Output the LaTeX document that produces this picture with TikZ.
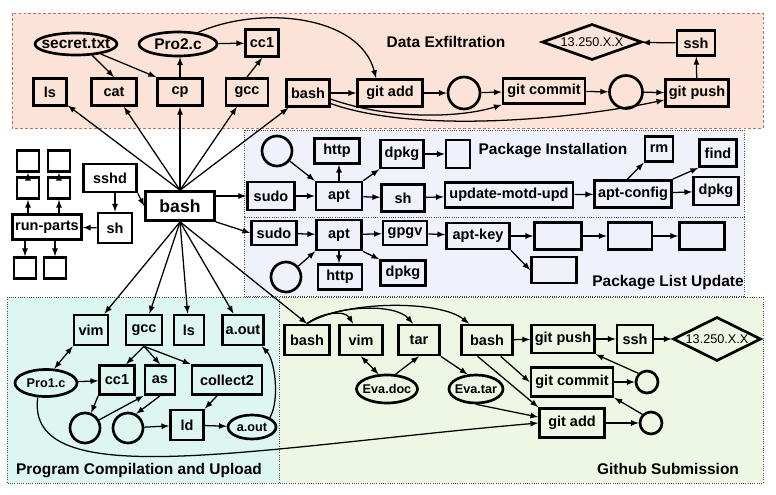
\documentclass[tikz,border=0pt]{standalone}
\usepackage{fontspec}
\setmainfont{Liberation Sans}
\usepackage{xcolor}
\usepackage{tikz}
\usetikzlibrary{calc}
\usetikzlibrary{shapes.geometric}

\definecolor{exfil}{HTML}{FBE4D7}
\definecolor{exfilline}{HTML}{B8745E}
\definecolor{pkg}{HTML}{EFF2FA}
\definecolor{prog}{HTML}{DEF6F2}
\definecolor{gitbg}{HTML}{EEF7E4}

\tikzset{
  box/.style={draw, line width=1.9pt, font=\bfseries\fontsize{10.3}{12}\selectfont, inner sep=1pt, minimum height=0.68cm},
  oval/.style={ellipse, draw, line width=1.9pt, font=\bfseries\fontsize{9}{11}\selectfont, inner xsep=-4pt, inner ysep=0pt},
  hole/.style={circle, draw, line width=1.9pt, inner sep=0pt},
  host/.style={diamond, draw, line width=1.9pt, font=\fontsize{9}{11}\selectfont, inner sep=0pt},
  wd/.style={minimum width=#1*0.025cm},
  hg/.style={minimum height=#1*0.025cm},
  sz/.style={minimum size=#1*0.025cm},
  arr/.style={-latex, line width=0.9pt},
  twoway/.style={latex-latex, line width=0.9pt},
  area/.style={densely dotted, draw=black!70, line width=0.6pt},
  areatitle/.style={font=\bfseries\fontsize{11}{13}\selectfont, inner sep=0pt},
}

\begin{document}
\begin{tikzpicture}[x=0.025cm, y=-0.025cm]
	\useasboundingbox (0,0) rectangle (776,494);
	% scenario areas
	\fill[exfil] (12,13) rectangle (763,128);
	\draw[exfilline, dash pattern=on 2pt off 1.5pt, line width=0.7pt] (12,13) rectangle (763,128);
	\fill[pkg] (244,130) rectangle (744,296);
	\draw[area] (244,130) rectangle (744,217);
	\draw[area] (244,217) rectangle (744,296);
	\fill[prog] (7,297) rectangle (279,483);
	\draw[area] (7,297) rectangle (279,483);
	\fill[gitbg] (279,297) rectangle (763,483);
	\draw[area] (279,297) rectangle (763,483);

	% entry point
	\node[box, wd=69, hg=29, font=\bfseries\fontsize{12.5}{14}\selectfont] (bash) at (180,206) {bash};
	\node[box, wd=53, hg=28] (sshd) at (110,178) {sshd};
	\node[box, wd=34, hg=30] (sh) at (115,228) {sh};
	\node[box, wd=69, hg=25] (runparts) at (47,227) {run-parts};
	\node[box, wd=22, hg=21] (q1) at (28,161) {};
	\node[box, wd=22, hg=21] (q2) at (59,161) {};
	\node[box, wd=22, hg=21] (q3) at (28,188) {};
	\node[box, wd=22, hg=21] (q4) at (59,188) {};
	\node[box, wd=22, hg=21] (q5) at (25,268) {};
	\node[box, wd=22, hg=21] (q6) at (55,268) {};

	% data exfiltration
	\node[oval, wd=82, hg=22, font=\bfseries\fontsize{11}{13}\selectfont] (dsecret) at (76,44) {secret.txt};
	\node[oval, wd=78, hg=24, font=\bfseries\fontsize{11}{13}\selectfont] (dpro) at (178,44) {Pro2.c};
	\node[box, wd=33] (dcc) at (262,43) {cc1};
	\node[box, wd=33] (dls) at (50,92) {ls};
	\node[box, wd=45] (dcat) at (114,92) {cat};
	\node[box, wd=45] (dcp) at (180,92) {cp};
	\node[box, wd=42] (dgcc) at (247,92) {gcc};
	\node[box, wd=43] (dbash) at (308,93) {bash};
	\node[box, wd=65] (dadd) at (390,93) {git add};
	\node[hole, sz=32] (dc1) at (464,93) {};
	\node[box, wd=82, hg=25] (dcommit) at (544,91) {git commit};
	\node[hole, sz=33] (dc2) at (626,92) {};
	\node[box, wd=63] (dpush) at (697,93) {git push};
	\node[box, wd=38, hg=25] (dssh) at (696,43) {ssh};
	\node[host, wd=100, hg=36, aspect=2.8] (dip) at (592,42) {13.250.X.X};
	\node[areatitle] (dtitle) at (446,42) {Data Exfiltration};

	% package installation
	\node[hole, sz=30] (ic) at (277,151) {};
	\node[box, wd=45, hg=25] (ihttp) at (337,151) {http};
	\node[box, wd=43, hg=28] (idpkg) at (402,154) {dpkg};
	\node[box, wd=24, hg=28] (ibox) at (458,154) {};
	\node[areatitle] (ititle) at (553,151) {Package Installation};
	\node[box, wd=28, hg=25] (irm) at (659,149) {rm};
	\node[box, wd=37] (ifind) at (718,153) {find};
	\node[box, wd=47, hg=28] (isudo) at (271,196) {sudo};
	\node[box, wd=46, hg=28] (iapt) at (339,196) {apt};
	\node[box, wd=43] (ish) at (403,198) {sh};
	\node[box, wd=128, hg=25] (imotd) at (509,195) {update-motd-upd};
	\node[box, wd=77] (iconfig) at (633,194) {apt-config};
	\node[box, wd=45, hg=28] (idpkg2) at (716,191) {dpkg};

	% package list update
	\node[box, wd=45, hg=24] (usudo) at (274,233) {sudo};
	\node[box, wd=45, hg=30] (uapt) at (339,235) {apt};
	\node[box, wd=44, hg=24] (ugpgv) at (405,233) {gpgv};
	\node[box, wd=63, hg=26] (ukey) at (478,236) {apt-key};
	\node[box, wd=47] (ub1) at (558,236) {};
	\node[box, wd=44] (ub2) at (630,236) {};
	\node[box, wd=45] (ub3) at (702,236) {};
	\node[box, wd=45, hg=26] (ub4) at (554,270) {};
	\node[hole, sz=30] (uc) at (286,277) {};
	\node[box, wd=44, hg=25] (uhttp) at (340,277) {http};
	\node[box, wd=45, hg=25] (udpkg) at (403,273) {dpkg};
	\node[areatitle] (utitle) at (668,283) {Package List Update};

	% program compilation
	\node[box, wd=34, hg=30] (pvim) at (91,330) {vim};
	\node[box, wd=36, hg=30] (pgcc) at (144,330) {gcc};
	\node[box, wd=30, hg=30] (pls) at (189,330) {ls};
	\node[box, wd=41, hg=30] (pout) at (243,330) {a.out};
	\node[oval, wd=62, hg=27] (ppro) at (46,383) {Pro1.c};
	\node[box, wd=35, hg=29] (pcc) at (117,380) {cc1};
	\node[box, wd=30, hg=29] (pas) at (160,380) {as};
	\node[box, wd=70, hg=29] (pcollect) at (227,380) {collect2};
	\node[hole, sz=30] (pc1) at (85,428) {};
	\node[hole, sz=30] (pc2) at (128,428) {};
	\node[box, wd=33, hg=30] (pld) at (187,425) {ld};
	\node[oval, wd=48, hg=24] (paout) at (252,427) {a.out};
	\node[areatitle] (ptitle) at (139,471) {Program Compilation and Upload};

	% github
	\node[box, wd=45, hg=30] (gbash) at (307,340) {bash};
	\node[box, wd=43, hg=30] (gvim) at (361,340) {vim};
	\node[box, wd=41, hg=30] (gtar) at (419,340) {tar};
	\node[box, wd=51, hg=30] (gbash2) at (487,340) {bash};
	\node[box, wd=63, hg=28] (gpush) at (563,339) {git push};
	\node[box, wd=36, hg=28] (gssh) at (635,339) {ssh};
	\node[host, wd=88, hg=44, aspect=2] (gip) at (717,339) {13.250.X.X};
	\node[oval, wd=61, hg=28] (gdoc) at (387,389) {Eva.doc};
	\node[oval, wd=54, hg=28] (gtarf) at (476,389) {Eva.tar};
	\node[box, wd=82, hg=29] (gcommit) at (572,382) {git commit};
	\node[hole, sz=22] (gca) at (647,382) {};
	\node[box, wd=65, hg=29] (gadd) at (572,423) {git add};
	\node[hole, sz=22] (gcb) at (651,423) {};
	\node[areatitle] (gtitle) at (668,469) {Github Submission};

	% entry point edges
	\draw[arr] (sshd.south east) -- (bash.west);
	\draw[arr] (sshd.south -| sh) -- (sh);
	\draw[arr] (sh) -- (runparts);
	\draw[arr] (runparts.north -| q3) -- (q3);
	\draw[arr] (runparts.north -| q4) -- (q4);
	\draw[arr] (q3) -- (q1);
	\draw[arr] (q4) -- (q2);
	\draw[arr] (runparts.south -| q5) -- (q5);
	\draw[arr] (runparts.south -| q6) -- (q6);
	\draw[arr] (bash.north) -- (dls);
	\draw[arr] (bash.north) -- (dcat);
	\draw[arr] (bash.north) -- (dcp);
	\draw[arr] (bash.north) -- (dgcc);
	\draw[arr] (bash.north) -- (dbash);
	\draw[arr] (bash.east |- isudo) -- (isudo);
	\draw[arr] (bash.south east) -- (usudo.west);
	\draw[arr] (bash.south) -- (pvim);
	\draw[arr] (bash.south) -- (pgcc);
	\draw[arr] (bash.south) -- (pls);
	\draw[arr] (bash.south) -- (pout);
	\draw[arr] (bash.south) -- (gbash.north);

	% data exfiltration edges
	\draw[arr] (dsecret.-35) -- (dcat.north);
	\draw[arr] (dsecret.-22) -- (dcp.north west);
	\draw[arr] (dcp.north) -- (dcp.north |- dpro.south);
	\draw[arr] (dpro) -- (dcc);
	\draw[arr] (dgcc.north) -- (dcc.south);
	\draw[arr] (dpro.30) .. controls (260,5) and (360,15) .. ($(dadd.north)+(-14,0)$);
	\draw[arr] (dbash) -- (dadd);
	\draw[arr] (dadd) -- (dc1);
	\draw[arr] (dc1) -- (dcommit);
	\draw[arr] (dcommit) -- (dc2);
	\draw[arr] (dc2) -- (dpush);
	\draw[arr] (dbash.-15) .. controls (390,120) and (460,118) .. (dcommit.south west);
	\draw[arr] (dbash.-25) .. controls (420,135) and (580,118) .. ($(dpush.west)+(0,7)$);
	\draw[arr] (dpush) -- (dssh);
	\draw[arr] (dssh) -- (dip);

	% package installation edges
	\draw[arr] (isudo) -- (iapt);
	\draw[arr] (ic) -- (iapt.north west);
	\draw[arr] (iapt.north) -- (iapt.north |- ihttp.south);
	\draw[arr] (iapt.north east) -- (idpkg.south west);
	\draw[arr] (idpkg) -- (ibox);
	\draw[arr] (iapt) -- (ish);
	\draw[arr] (ish) -- (imotd);
	\draw[arr] (imotd) -- (iconfig);
	\draw[arr] (iconfig.110) -- (irm.south west);
	\draw[arr] (iconfig.north east) -- (ifind.south west);
	\draw[arr] (iconfig) -- (idpkg2);

	% package list update edges
	\draw[arr] (usudo) -- (uapt);
	\draw[arr] (uapt) -- (ugpgv);
	\draw[arr] (ugpgv) -- (ukey);
	\draw[arr] (ukey) -- (ub1);
	\draw[arr] (ub1) -- (ub2);
	\draw[arr] (ub2) -- (ub3);
	\draw[arr] (ukey.south east) -- (ub4.west);
	\draw[arr] (uc) -- (uapt.south west);
	\draw[arr] (uapt.south) -- (uapt.south |- uhttp.north);
	\draw[arr] (uapt.south east) -- (udpkg.north west);

	% program compilation edges
	\draw[twoway] (pvim.south west) -- (ppro.60);
	\draw[arr] (ppro) -- (pcc);
	\draw[arr] (pgcc.south) -- (pcc.60);
	\draw[arr] (pgcc.south) -- (pas.north);
	\draw[arr] (pgcc.south) -- (pcollect.north west);
	\draw[arr] (pcc.south west) -- (pc1);
	\draw[arr] (pc1.30) -- (pas.south west);
	\draw[arr] (pas.south) -- (pc2.60);
	\draw[arr] (pc2) -- (pld);
	\draw[arr] ($(pcollect.south)+(-10,0)$) -- (pld.north east);
	\draw[arr] (pld) -- (paout);
	\draw[arr] (paout.north east) .. controls (280,400) and (275,360) .. ($(pout.south east)+(-3,0)$);
	\draw[arr] (ppro.-120) .. controls (25,495) and (250,448) .. (gadd.west);

	% github edges
	\draw[arr] (gbash.north) .. controls (322,312) and (345,310) .. ($(gvim.north)+(-8,0)$);
	\draw[arr] (gbash.north) .. controls (335,305) and (395,303) .. ($(gtar.north)+(-6,0)$);
	\draw[arr] (gbash.north) .. controls (345,300) and (440,300) .. ($(gbash2.north)+(-18,0)$);
	\draw[twoway] (gvim.south) -- (gdoc.120);
	\draw[arr] (gdoc.60) -- (gtar.south);
	\draw[arr] (gtar.south east) -- (gtarf.120);
	\draw[arr] (gtarf.south) -- (gadd.170);
	\draw[arr] (gbash2) -- (gpush);
	\draw[arr] (gpush) -- (gssh);
	\draw[arr] (gssh) -- (gip);
	\draw[arr] (gbash2.-50) -- (gcommit.west);
	\draw[arr] (gbash2.-120) -- (gadd.north west);
	\draw[arr] (gcommit) -- (gca);
	\draw[arr] (gadd) -- (gcb);
	\draw[arr] (gca.north west) -- (gpush.south east);
	\draw[arr] (gcb.north west) -- (gcommit.south east);
\end{tikzpicture}
\end{document}
